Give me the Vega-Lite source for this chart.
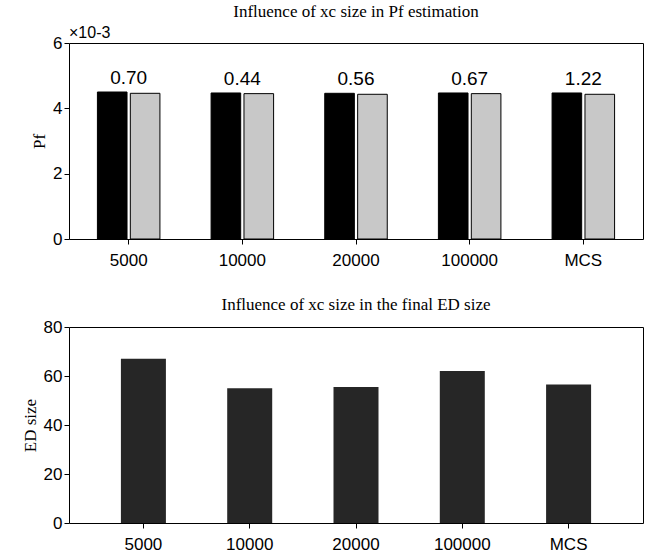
{
"$schema":"https://vega.github.io/schema/vega-lite/v6.json",
"background":"white",
"padding":{"left":20,"top":2,"right":0,"bottom":2},
"spacing":26,
"config":{"view":{"stroke":"black","strokeWidth":1},"axis":{"labelFont":"Liberation Sans","labelFontSize":17,"labelColor":"black","domain":false,"tickColor":"black","grid":false,"labelOverlap":false,"titleFont":"Liberation Serif","titleFontSize":17,"titleFontWeight":"normal","titleColor":"black"},"title":{"font":"Liberation Serif","fontSize":17,"fontWeight":"normal","color":"black"}},
"datasets":{
"pf":[
{"cat":"5000","s":"a","v":4.50,"lab":"0.70"},{"cat":"5000","s":"b","v":4.46,"lab":""},
{"cat":"10000","s":"a","v":4.47,"lab":"0.44"},{"cat":"10000","s":"b","v":4.45,"lab":""},
{"cat":"20000","s":"a","v":4.46,"lab":"0.56"},{"cat":"20000","s":"b","v":4.43,"lab":""},
{"cat":"100000","s":"a","v":4.47,"lab":"0.67"},{"cat":"100000","s":"b","v":4.45,"lab":""},
{"cat":"MCS","s":"a","v":4.47,"lab":"1.22"},{"cat":"MCS","s":"b","v":4.43,"lab":""}],
"ed":[{"cat":"5000","v":67},{"cat":"10000","v":55},{"cat":"20000","v":55.5},{"cat":"100000","v":62},{"cat":"MCS","v":56.5}]
},
"vconcat":[
{"width":574,"height":196,
"title":{"text":"Influence of xc size in Pf estimation","offset":4},
"layer":[
{"data":{"name":"pf"},"mark":{"type":"bar","stroke":"black","strokeWidth":1},
"encoding":{"x":{"field":"cat","type":"nominal","sort":null,"scale":{"paddingInner":0.45,"paddingOuter":0.25},"axis":{"title":null,"labelAngle":0,"labelPadding":8}},
"xOffset":{"field":"s","type":"nominal","scale":{"paddingInner":0.1}},
"y":{"field":"v","type":"quantitative","scale":{"domain":[0,6]},"axis":{"title":"Pf","values":[0,2,4,6]}},
"color":{"field":"s","type":"nominal","scale":{"domain":["a","b"],"range":["#000000","#c8c8c8"]},"legend":null}}},
{"data":{"name":"pf"},"transform":[{"filter":"datum.s=='a'"}],"mark":{"type":"text","font":"Liberation Sans","fontSize":19,"dy":-14,"color":"black"},
"encoding":{"x":{"field":"cat","type":"nominal","sort":null},"y":{"field":"v","type":"quantitative"},"text":{"field":"lab"}}},
{"data":{"values":[{"t":"×10-3"}]},"mark":{"type":"text","font":"Liberation Sans","fontSize":16,"align":"left","baseline":"bottom","x":0,"y":-2,"color":"black"},"encoding":{"text":{"field":"t"}}}
]},
{"width":574,"height":196,
"title":{"text":"Influence of xc size in the final ED size","offset":4},
"data":{"name":"ed"},
"mark":{"type":"bar","color":"#262626","width":45},
"encoding":{"x":{"field":"cat","type":"nominal","sort":null,"scale":{"paddingOuter":0.25},"axis":{"title":null,"labelAngle":0,"labelPadding":8}},
"y":{"field":"v","type":"quantitative","scale":{"domain":[0,80]},"axis":{"title":"ED size","values":[0,20,40,60,80]}}}}
]
}
